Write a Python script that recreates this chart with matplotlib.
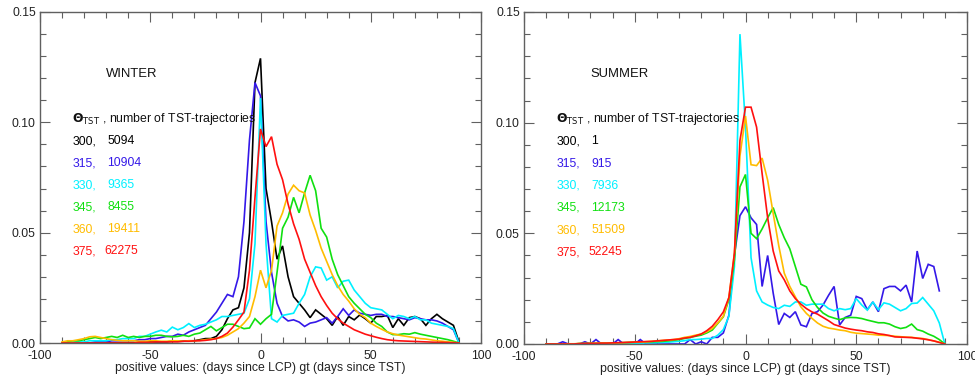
import numpy as np
import matplotlib
matplotlib.use("Agg")
import matplotlib.pyplot as plt
from matplotlib.ticker import MultipleLocator

plt.rcParams['font.family'] = ['Liberation Sans', 'DejaVu Sans']
plt.rcParams['axes.unicode_minus'] = False

# ---------------- data ----------------
days = np.arange(-90, 92.5, 2.5)   # bin centres (73 bins)

theta_levels = ['300', '315', '330', '345', '360', '375']
series_colors = ['#000000', '#3418e8', '#00f0ff', '#10e010', '#ffbc00', '#ff1010']

winter_counts = ['5094', '10904', '9365', '8455', '19411', '62275']
summer_counts = ['1', '915', '7936', '12173', '51509', '52245']

# ---- WINTER ----
w300 = [0, 0, 0, 0, 0, 0, 0, 0, 0, 0, 0, 0, 0, 0, 0.0003, 0.0003, 0.0005, 0.0005, 0.0005, 0.0005, 0.0008, 0.0008, 0.0008, 0.001,
        0.001, 0.0015, 0.002, 0.002, 0.003, 0.006, 0.011, 0.015, 0.016, 0.025, 0.05, 0.118,
        0.129,
        0.07, 0.055, 0.038, 0.044, 0.03, 0.021, 0.018, 0.015, 0.0115, 0.015, 0.013, 0.011, 0.008, 0.012, 0.008, 0.012,
        0.0105, 0.0127, 0.011, 0.009, 0.012, 0.012, 0.0125, 0.007, 0.011, 0.008, 0.0115, 0.012, 0.011, 0.008, 0.011,
        0.013, 0.011, 0.0095, 0.008, 0.0005]
w315 = [0, 0, 0, 0, 0, 0, 0.0005, 0.0005, 0.0005, 0.001, 0.001, 0.001, 0.001, 0.001, 0.0015, 0.0015, 0.002, 0.002,
        0.0025, 0.003, 0.003, 0.004, 0.0035, 0.005, 0.006, 0.007, 0.008, 0.011, 0.014, 0.018, 0.022, 0.021, 0.03,
        0.055, 0.092, 0.118,
        0.112,
        0.055, 0.032, 0.018, 0.012, 0.010, 0.0105, 0.0095, 0.0075, 0.009, 0.0095, 0.0105, 0.0115, 0.009, 0.012,
        0.0155, 0.0125, 0.015, 0.0135, 0.013, 0.0125, 0.013, 0.013, 0.012, 0.012, 0.0115, 0.011, 0.0105, 0.0115,
        0.011, 0.0105, 0.0105, 0.01, 0.009, 0.0075, 0.006, 0]
w330 = [0, 0, 0.0005, 0.0005, 0.0005, 0.001, 0.001, 0.001, 0.001, 0.0015, 0.0015, 0.002, 0.002, 0.002, 0.003, 0.003,
        0.004, 0.005, 0.0058, 0.005, 0.0072, 0.006, 0.007, 0.0088, 0.007, 0.008, 0.0085, 0.0095, 0.0105, 0.012,
        0.012, 0.0125, 0.013, 0.0135, 0.02, 0.045,
        0.111,
        0.045, 0.011, 0.0095, 0.0125, 0.013, 0.0135, 0.018, 0.022, 0.03, 0.0345, 0.034, 0.0285, 0.03, 0.025, 0.028,
        0.0285, 0.024, 0.021, 0.018, 0.016, 0.0155, 0.015, 0.013, 0.011, 0.0125, 0.012, 0.011, 0.012, 0.0105,
        0.0105, 0.009, 0.0085, 0.008, 0.0075, 0.0065, 0]
w345 = [0, 0.0005, 0.001, 0.001, 0.0015, 0.002, 0.0025, 0.002, 0.0025, 0.003, 0.0025, 0.0035, 0.0025, 0.003, 0.0025,
        0.003, 0.003, 0.0035, 0.0035, 0.003, 0.0028, 0.003, 0.0035, 0.003, 0.004, 0.0045, 0.006, 0.0075, 0.0055,
        0.007, 0.0085, 0.0085, 0.0075, 0.0065, 0.0068, 0.011,
        0.0085,
        0.011, 0.013, 0.032, 0.052, 0.057, 0.066, 0.059, 0.068, 0.076, 0.069, 0.052, 0.048, 0.038, 0.031, 0.026,
        0.021, 0.018, 0.0155, 0.013, 0.0115, 0.009, 0.0075, 0.005, 0.0038, 0.0038, 0.0042, 0.004, 0.0047, 0.004,
        0.0035, 0.003, 0.0025, 0.002, 0.0015, 0.0008, 0]
w360 = [0.0005, 0.001, 0.001, 0.0015, 0.002, 0.0028, 0.003, 0.0025, 0.002, 0.0015, 0.0012, 0.001, 0.001, 0.001,
        0.0008, 0.0008, 0.001, 0.001, 0.0008, 0.0008, 0.001, 0.001, 0.0008, 0.001, 0.001, 0.0012, 0.0015, 0.0018,
        0.002, 0.0025, 0.0035, 0.005, 0.0065, 0.009, 0.012, 0.021,
        0.033,
        0.025, 0.033, 0.053, 0.059, 0.0675, 0.0715, 0.069, 0.068, 0.058, 0.051, 0.043, 0.037, 0.031, 0.026, 0.022,
        0.019, 0.0155, 0.013, 0.0115, 0.009, 0.0075, 0.0062, 0.005, 0.0042, 0.0036, 0.0032, 0.0028, 0.0024, 0.002,
        0.0018, 0.0014, 0.001, 0.0008, 0.0005, 0.0003, 0]
w375 = [0, 0, 0, 0, 0, 0, 0, 0, 0, 0, 0, 0, 0, 0, 0.0003, 0.0003, 0.0003, 0.0005, 0.0005, 0.0005, 0.0005, 0.0005,
        0.0008, 0.0008, 0.001, 0.001, 0.0012, 0.0015, 0.002, 0.003, 0.0045, 0.0072, 0.0105, 0.014, 0.033, 0.066,
        0.097,
        0.089, 0.0935, 0.081, 0.074, 0.063, 0.054, 0.047, 0.038, 0.032, 0.026, 0.021, 0.017, 0.0135, 0.011, 0.009,
        0.0075, 0.006, 0.005, 0.004, 0.0033, 0.0026, 0.002, 0.0015, 0.0012, 0.001, 0.0009, 0.0008, 0.0007, 0.0006,
        0.0005, 0.0004, 0.0003, 0.0003, 0.0002, 0.0001, 0]

# ---- SUMMER ----  (theta 300 has a single trajectory -> no visible curve)
s315 = [0, 0, 0, 0.001, 0, 0, 0, 0.001, 0, 0.002, 0, 0, 0, 0.002, 0, 0, 0, 0.002, 0, 0, 0, 0, 0, 0, 0, 0,
        0.002, 0, 0.001, 0, 0.003, 0.003, 0.005, 0.013, 0.04, 0.058,
        0.062,
        0.057, 0.054, 0.026, 0.040, 0.023, 0.0088, 0.0138, 0.012, 0.0146, 0.0086, 0.0078, 0.0138, 0.0146, 0.0176,
        0.022, 0.026, 0.0086, 0.012, 0.013, 0.0215, 0.0205, 0.0155, 0.019, 0.0146, 0.025, 0.026, 0.026, 0.024,
        0.0266, 0.019, 0.042, 0.0296, 0.036, 0.035, 0.024, np.nan]
s330 = [0, 0, 0, 0, 0, 0, 0, 0, 0, 0, 0, 0, 0, 0, 0, 0, 0.0003, 0.0003, 0.0005, 0.0005, 0.0006, 0.0007, 0.0008,
        0.001, 0.0012, 0.0015, 0.002, 0.002, 0.0022, 0.0025, 0.0025, 0.004, 0.0065, 0.0125, 0.035, 0.14,
        0.098,
        0.039, 0.024, 0.019, 0.0176, 0.0165, 0.016, 0.0175, 0.017, 0.019, 0.019, 0.0175, 0.018, 0.018, 0.018, 0.016,
        0.015, 0.016, 0.0155, 0.016, 0.0205, 0.0176, 0.0153, 0.019, 0.0155, 0.0186, 0.018, 0.0165, 0.015, 0.016,
        0.0183, 0.0185, 0.021, 0.018, 0.015, 0.0095, 0]
s345 = [0, 0, 0, 0, 0, 0, 0.0002, 0.0002, 0.0003, 0.0003, 0.0004, 0.0004, 0.0005, 0.0005, 0.0006, 0.0007, 0.0008,
        0.0009, 0.001, 0.001, 0.0011, 0.0012, 0.0014, 0.0017, 0.002, 0.0025, 0.003, 0.0035, 0.004, 0.005, 0.0063,
        0.0093, 0.0123, 0.02, 0.038, 0.071,
        0.0766,
        0.05, 0.0476, 0.052, 0.057, 0.0616, 0.054, 0.048, 0.043, 0.035, 0.027, 0.0258, 0.020, 0.0165, 0.014, 0.0125,
        0.0117, 0.011, 0.0118, 0.012, 0.0119, 0.0115, 0.0108, 0.0102, 0.0096, 0.0096, 0.009, 0.0078, 0.007, 0.0075,
        0.009, 0.0065, 0.0058, 0.0045, 0.0035, 0.002, 0]
s360 = [0, 0, 0, 0, 0.0001, 0.0001, 0.0002, 0.0002, 0.0003, 0.0003, 0.0004, 0.0004, 0.0005, 0.0005, 0.0006, 0.0007,
        0.0008, 0.0009, 0.001, 0.0012, 0.0014, 0.0016, 0.0018, 0.002, 0.0024, 0.003, 0.0034, 0.004, 0.0045, 0.0055,
        0.007, 0.0095, 0.0125, 0.021, 0.041, 0.085,
        0.103,
        0.081, 0.0806, 0.084, 0.074, 0.059, 0.0445, 0.032, 0.026, 0.0213, 0.0168, 0.0138, 0.0116, 0.0095, 0.008,
        0.0072, 0.0068, 0.0063, 0.006, 0.0053, 0.0049, 0.0047, 0.0045, 0.0043, 0.004, 0.0039, 0.0038, 0.0035,
        0.0033, 0.0031, 0.003, 0.0027, 0.0025, 0.002, 0.0014, 0.0008, 0]
s375 = [0, 0, 0, 0, 0, 0, 0.0002, 0.0002, 0.0003, 0.0003, 0.0004, 0.0004, 0.0005, 0.0006, 0.0007, 0.0008, 0.0009,
        0.001, 0.0011, 0.0012, 0.0014, 0.0016, 0.0018, 0.002, 0.0022, 0.0027, 0.003, 0.0037, 0.0045, 0.006, 0.008,
        0.011, 0.0145, 0.021, 0.041, 0.092,
        0.107,
        0.107, 0.098, 0.077, 0.057, 0.042, 0.033, 0.029, 0.024, 0.0205, 0.018, 0.016, 0.0145, 0.0135, 0.012, 0.0105,
        0.0088, 0.008, 0.0072, 0.0067, 0.0063, 0.006, 0.0055, 0.0052, 0.0046, 0.0043, 0.0038, 0.0032, 0.0031, 0.003,
        0.0029, 0.0026, 0.0023, 0.0019, 0.0014, 0.0007, 0]

winter_series = [w300, w315, w330, w345, w360, w375]
summer_series = [None, s315, s330, s345, s360, s375]

for s in winter_series + summer_series:
    if s is not None:
        assert len(s) == len(days), len(s)

# ---------------- plotting ----------------
fig = plt.figure(figsize=(9.75, 3.75), dpi=100)
ax1 = fig.add_axes([40 / 975, 32 / 375, 441 / 975, 331 / 375])
ax2 = fig.add_axes([524 / 975, 31 / 375, 443 / 975, 332 / 375])

frame_col = '#606060'
fs_tick = 8.8
fs_txt = 8.8


def style_axes(ax):
    ax.set_xlim(-100, 100)
    ax.set_ylim(0, 0.15)
    ax.xaxis.set_major_locator(MultipleLocator(50))
    ax.xaxis.set_minor_locator(MultipleLocator(10))
    ax.yaxis.set_major_locator(MultipleLocator(0.05))
    ax.yaxis.set_minor_locator(MultipleLocator(0.01))
    ax.yaxis.set_major_formatter(plt.FuncFormatter(lambda v, p: f"{v:.2f}"))
    ax.tick_params(which='both', direction='in', top=True, right=True,
                   color=frame_col, width=0.8, labelsize=fs_tick, labelcolor='#222222')
    ax.tick_params(which='major', length=7)
    ax.tick_params(which='minor', length=4)
    ax.tick_params(axis='x', pad=5)
    ax.tick_params(axis='y', pad=3)
    for sp in ax.spines.values():
        sp.set_color(frame_col)
        sp.set_linewidth(1.0)
    ax.set_xlabel('positive values: (days since LCP) gt (days since TST)', fontsize=fs_tick,
                  labelpad=0, color='#222222')


def draw_panel(ax, series, counts, title):
    for vals, col in zip(series, series_colors):
        if vals is None:
            continue
        ax.plot(days, vals, color=col, lw=1.2, solid_joinstyle='miter')
    ax.text(-70, 0.122, title, fontsize=fs_txt + 0.6, va='center', ha='left', color='#111111')
    ax.text(-85.4, 0.1015, r'$\mathbf{\Theta}_{\rm TST}$ , number of TST-trajectories',
            fontsize=fs_txt, va='center', ha='left', color='#111111')
    for k, (lev, cnt, col) in enumerate(zip(theta_levels, counts, series_colors)):
        yy = 0.0915 - k * 0.01
        ax.text(-85.4, yy, lev + ',', fontsize=fs_txt, va='center', ha='left', color=col)
        xx = -71 if k == 5 else -69.5
        ax.text(xx, yy, cnt, fontsize=fs_txt, va='center', ha='left', color=col)
    style_axes(ax)


draw_panel(ax1, winter_series, winter_counts, 'WINTER')
draw_panel(ax2, summer_series, summer_counts, 'SUMMER')

fig.savefig('out.png', dpi=100, facecolor='white')
